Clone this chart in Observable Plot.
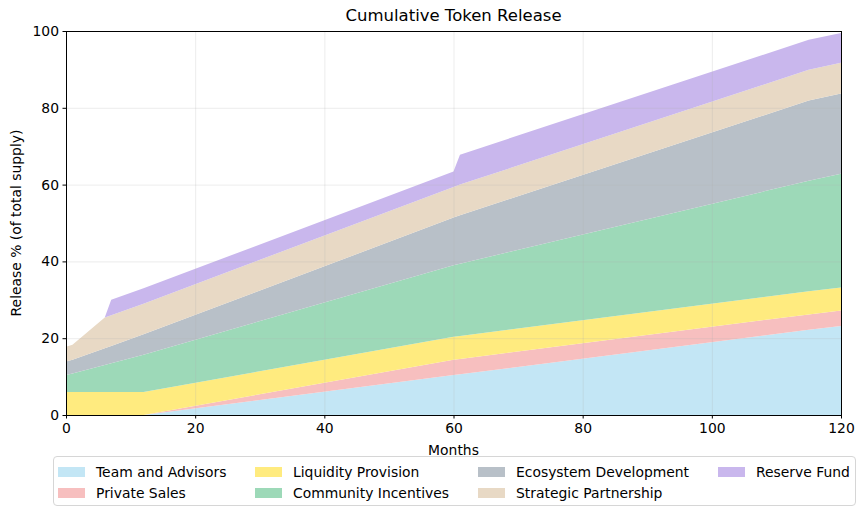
<!DOCTYPE html>
<html>
<head>
<meta charset="utf-8">
<script src="https://cdn.jsdelivr.net/npm/d3@7"></script>
<script src="https://cdn.jsdelivr.net/npm/@observablehq/plot@0.6"></script>
<style>
  body { margin: 0; background: #fff; font-family: "DejaVu Sans", sans-serif; }
  #wrap { position: relative; width: 864px; height: 516px; overflow: hidden; }
  #title { position: absolute; top: 6px; left: 66px; width: 775px; text-align: center; font-size: 16.5px; color: #000; }
  #chart { position: absolute; top: 0; left: 0; }
  #xlabel { position: absolute; top: 442px; left: 66px; width: 775px; text-align: center; font-size: 13.9px; }
  #ylabel { position: absolute; left: 16px; top: 223px; transform: translate(-50%, -50%) rotate(-90deg); white-space: nowrap; font-size: 13.9px; }
  #legend { position: absolute; left: 53px; top: 456px; width: 803px; height: 50px; border: 1px solid #d6d6d6; border-radius: 4px; box-sizing: border-box; font-size: 13.9px; }
  .item { position: absolute; display: flex; align-items: center; height: 18px; }
  .sw { width: 27px; height: 10px; margin-right: 11px; }
</style>
</head>
<body>
<div id="wrap">
  <div id="title">Cumulative Token Release</div>
  <div id="chart"></div>
  <div id="xlabel">Months</div>
  <div id="ylabel">Release % (of total supply)</div>
  <div id="legend"></div>
</div>
<script>
// Data, cumulative % of total supply per category
const months    = [0, 1, 6, 7, 12, 60, 61, 115, 120];
const team      = [0, 0, 0, 0, 0, 10.4, 10.6, 22.2, 23.2];
const privateS  = [0, 0, 0, 0, 0, 4.0, 4.0, 4.0, 4.0];
const liquidity = [6, 6, 6, 6, 6, 6, 6, 6, 6];
const community = [4.4, 4.8, 7.0, 7.5, 9.7, 18.6, 18.8, 28.8, 29.6];
const ecosystem = [3.5, 3.6, 4.4, 4.5, 5.3, 12.4, 12.6, 20.9, 20.9];
const strategic = [3.9, 3.9, 8.0, 8.0, 8.0, 8.0, 8.0, 8.0, 8.0];
const reserve   = [0, 0, 0, 4.0, 4.0, 4.0, 7.8, 7.8, 7.8];

const seriesNames = ["Team and Advisors", "Private Sales", "Liquidity Provision", "Community Incentives",
                     "Ecosystem Development", "Strategic Partnership", "Reserve Fund"];
const seriesValues = [team, privateS, liquidity, community, ecosystem, strategic, reserve];
const colors = ["#c3e6f5", "#f7bfbf", "#ffeb7f", "#9dd9b8", "#b8c0c8", "#e8d9c5", "#c9b7ed"];

const xTicks = [0, 20, 40, 60, 80, 100, 120];
const yTicks = [0, 20, 40, 60, 80, 100];

const rows = [];
seriesNames.forEach((name, i) => {
  months.forEach((m, j) => rows.push({series: name, month: m, value: seriesValues[i][j]}));
});

const chart = Plot.plot({
  width: 864,
  height: 460,
  marginTop: 31,
  marginBottom: 45,
  marginLeft: 66,
  marginRight: 23,
  style: {fontFamily: "DejaVu Sans, sans-serif", fontSize: "13.9px", color: "#000", background: "transparent"},
  x: {domain: [0, 120], ticks: xTicks, tickSize: 3.5, tickPadding: 4, label: null},
  y: {domain: [0, 100], ticks: yTicks, tickSize: 3.5, tickPadding: 4, label: null},
  color: {domain: seriesNames, range: colors},
  marks: [
    Plot.areaY(rows, {x: "month", y: "value", fill: "series", order: seriesNames, curve: "linear"}),
    Plot.gridX(xTicks, {stroke: "#b0b0b0", strokeOpacity: 0.3, strokeWidth: 0.8}),
    Plot.gridY(yTicks, {stroke: "#b0b0b0", strokeOpacity: 0.3, strokeWidth: 0.8}),
    Plot.frame({stroke: "#000", strokeWidth: 1})
  ]
});
document.getElementById("chart").appendChild(chart);

// Legend: 4 columns, filled column-wise, 2 rows
const legend = document.getElementById("legend");
const colX = [4, 201, 424, 664];
const rowY = [6, 27];
seriesNames.forEach((name, i) => {
  const col = Math.floor(i / 2), row = i % 2;
  const el = document.createElement("div");
  el.className = "item";
  el.style.left = colX[col] + "px";
  el.style.top = rowY[row] + "px";
  el.innerHTML = `<span class="sw" style="background:${colors[i]}"></span><span>${name}</span>`;
  legend.appendChild(el);
});
</script>
</body>
</html>
